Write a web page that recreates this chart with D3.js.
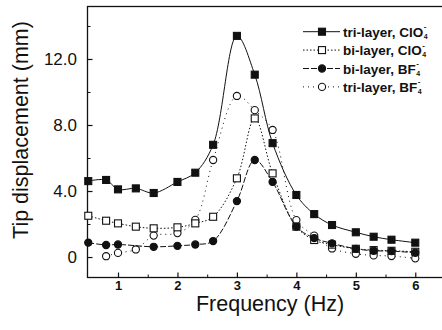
<!DOCTYPE html>
<html><head><meta charset="utf-8">
<script src="https://cdn.jsdelivr.net/npm/d3@7"></script>
<style>body{margin:0;background:#fff}</style></head>
<body><svg id="c" width="442" height="330"></svg>
<script>
// ---- data ----
const freq = [0.5, 0.8, 1.0, 1.3, 1.6, 2.0, 2.3, 2.6, 3.0, 3.3, 3.6, 4.0, 4.3, 4.6, 5.0, 5.3, 5.6, 6.0];
const triClO4 = [4.6, 4.67, 4.1, 4.16, 3.88, 4.55, 5.11, 6.8, 13.4, 11.05, 6.9, 3.76, 2.6, 1.94, 1.5, 1.23, 1.05, 0.87];
const biClO4  = [2.5, 2.2, 2.04, 1.84, 1.74, 1.8, 2.04, 2.44, 4.77, 8.4, 5.07, 1.84, 1.03, 0.75, 0.5, 0.42, 0.38, 0.32];
const biBF4   = [0.87, 0.73, 0.76, null, 0.62, 0.68, 0.76, 0.97, 3.39, 5.88, 4.55, 1.84, 1.15, 0.83, 0.5, 0.38, 0.36, 0.26];
const triBF4  = [null, 0.05, 0.25, 0.46, 1.3, 1.45, 2.25, 5.88, 9.76, 8.9, 7.7, 2.24, 1.3, 0.52, 0.2, 0.1, 0.06, -0.08];
const legendNames = ["tri-layer, ClO", "bi-layer, ClO", "bi-layer, BF", "tri-layer, BF"];
const xTicks = [1, 2, 3, 4, 5, 6];
const xMinor = [1.5, 2.5, 3.5, 4.5, 5.5];
const yTicks = [0, 4, 8, 12];
const yTickLabels = ["0", "4.0", "8.0", "12.0"];
const yMinor = [2, 6, 10, 14];
const xDomain = [0.487, 6.5];
const yDomain = [-1.24, 15.18];

// ---- layout ----
const L = 87.5, R = 445, T = 6.5, B = 277.5;
const svg = d3.select("#c");
const x = d3.scaleLinear().domain(xDomain).range([L, R]);
const y = d3.scaleLinear().domain(yDomain).range([B, T]);
const font = "'Liberation Sans', Arial, sans-serif";

// frame
svg.append("rect").attr("x", L).attr("y", T).attr("width", 460 - L).attr("height", B - T)
  .attr("fill", "none").attr("stroke", "#111").attr("stroke-width", 1.3);

// axes
const yAx = svg.append("g").attr("transform", `translate(${L},0)`)
  .call(d3.axisLeft(y).tickValues(yTicks).tickFormat((d, i) => yTickLabels[i]).tickSize(-5).tickSizeOuter(0).tickPadding(10.5));
yAx.select(".domain").remove();
yAx.selectAll("text").attr("font-family", font).attr("font-size", 17).attr("fill", "#111");
yAx.selectAll("line").attr("stroke", "#111").attr("stroke-width", 1.2);
const yMin = svg.append("g").attr("transform", `translate(${L},0)`)
  .call(d3.axisLeft(y).tickValues(yMinor).tickFormat("").tickSize(-3).tickSizeOuter(0));
yMin.select(".domain").remove();
yMin.selectAll("line").attr("stroke", "#111");

const xAx = svg.append("g").attr("transform", `translate(0,${B})`)
  .call(d3.axisBottom(x).tickValues(xTicks).tickFormat(d3.format("d")).tickSize(-5).tickSizeOuter(0).tickPadding(3));
xAx.select(".domain").remove();
xAx.selectAll("text").attr("font-family", font).attr("font-size", 13).attr("font-weight", "bold").attr("fill", "#111");
xAx.selectAll("line").attr("stroke", "#111").attr("stroke-width", 1.2);
const xMin = svg.append("g").attr("transform", `translate(0,${B})`)
  .call(d3.axisBottom(x).tickValues(xMinor).tickFormat("").tickSize(-3).tickSizeOuter(0));
xMin.select(".domain").remove();
xMin.selectAll("line").attr("stroke", "#111");

// axis titles
svg.append("text").attr("x", 270).attr("y", 311).attr("text-anchor", "middle")
  .attr("font-family", font).attr("font-size", 21.5).attr("fill", "#111").text("Frequency (Hz)");
svg.append("text").attr("transform", "translate(28,130) rotate(-90)").attr("text-anchor", "middle")
  .attr("font-family", font).attr("font-size", 21.5).attr("fill", "#111").text("Tip displacement (mm)");

// series (draw order)
const series = [
  {vals: triBF4,  dash: "1,4",   marker: "circle", fill: "#fff", legend: 3},
  {vals: biClO4,  dash: "1.5,2", marker: "square", fill: "#fff", legend: 1},
  {vals: biBF4,   dash: "6,2",   marker: "circle", fill: "#111", legend: 2},
  {vals: triClO4, dash: null,    marker: "square", fill: "#111", legend: 0}
];
const line = d3.line().x(d => x(d[0])).y(d => y(d[1])).curve(d3.curveCatmullRom.alpha(0.5));
const plot = svg.append("g");
function drawMarker(g, type, cx, cy, fill) {
  if (type === "square") {
    g.append("rect").attr("x", cx - 3.5).attr("y", cy - 3.5).attr("width", 7).attr("height", 7)
      .attr("fill", fill).attr("stroke", "#111").attr("stroke-width", 1.1);
  } else {
    g.append("circle").attr("cx", cx).attr("cy", cy).attr("r", 3.6)
      .attr("fill", fill).attr("stroke", "#111").attr("stroke-width", 1.1);
  }
}
series.forEach(s => {
  const pts = freq.map((f, i) => [f, s.vals[i]]).filter(p => p[1] !== null);
  plot.append("path").attr("d", line(pts)).attr("fill", "none").attr("stroke", "#111")
    .attr("stroke-width", 1).attr("stroke-dasharray", s.dash);
  pts.forEach(p => drawMarker(plot, s.marker, x(p[0]), y(p[1]), s.fill));
});

// legend
const lg = svg.append("g");
series.forEach(s => {
  const k = s.legend;
  const cy = 31.7 + k * 18.4;
  lg.append("line").attr("x1", 303).attr("x2", 340).attr("y1", cy).attr("y2", cy)
    .attr("stroke", "#111").attr("stroke-width", 1).attr("stroke-dasharray", s.dash);
  drawMarker(lg, s.marker, 322, cy, s.fill);
  const t = lg.append("text").attr("x", 343).attr("y", cy + 5)
    .attr("font-family", font).attr("font-size", 13.5).attr("font-weight", "bold").attr("fill", "#111")
    .text(legendNames[k]);
  const w = t.node().getComputedTextLength();
  lg.append("text").attr("x", 343 + w + 0.5).attr("y", cy - 2.5).attr("font-family", font)
    .attr("font-size", 8).attr("font-weight", "bold").attr("fill", "#111").text("-");
  lg.append("text").attr("x", 343 + w + 0.5).attr("y", cy + 7).attr("font-family", font)
    .attr("font-size", 7).attr("font-weight", "bold").attr("fill", "#111").text("4");
});
</script></body></html>
